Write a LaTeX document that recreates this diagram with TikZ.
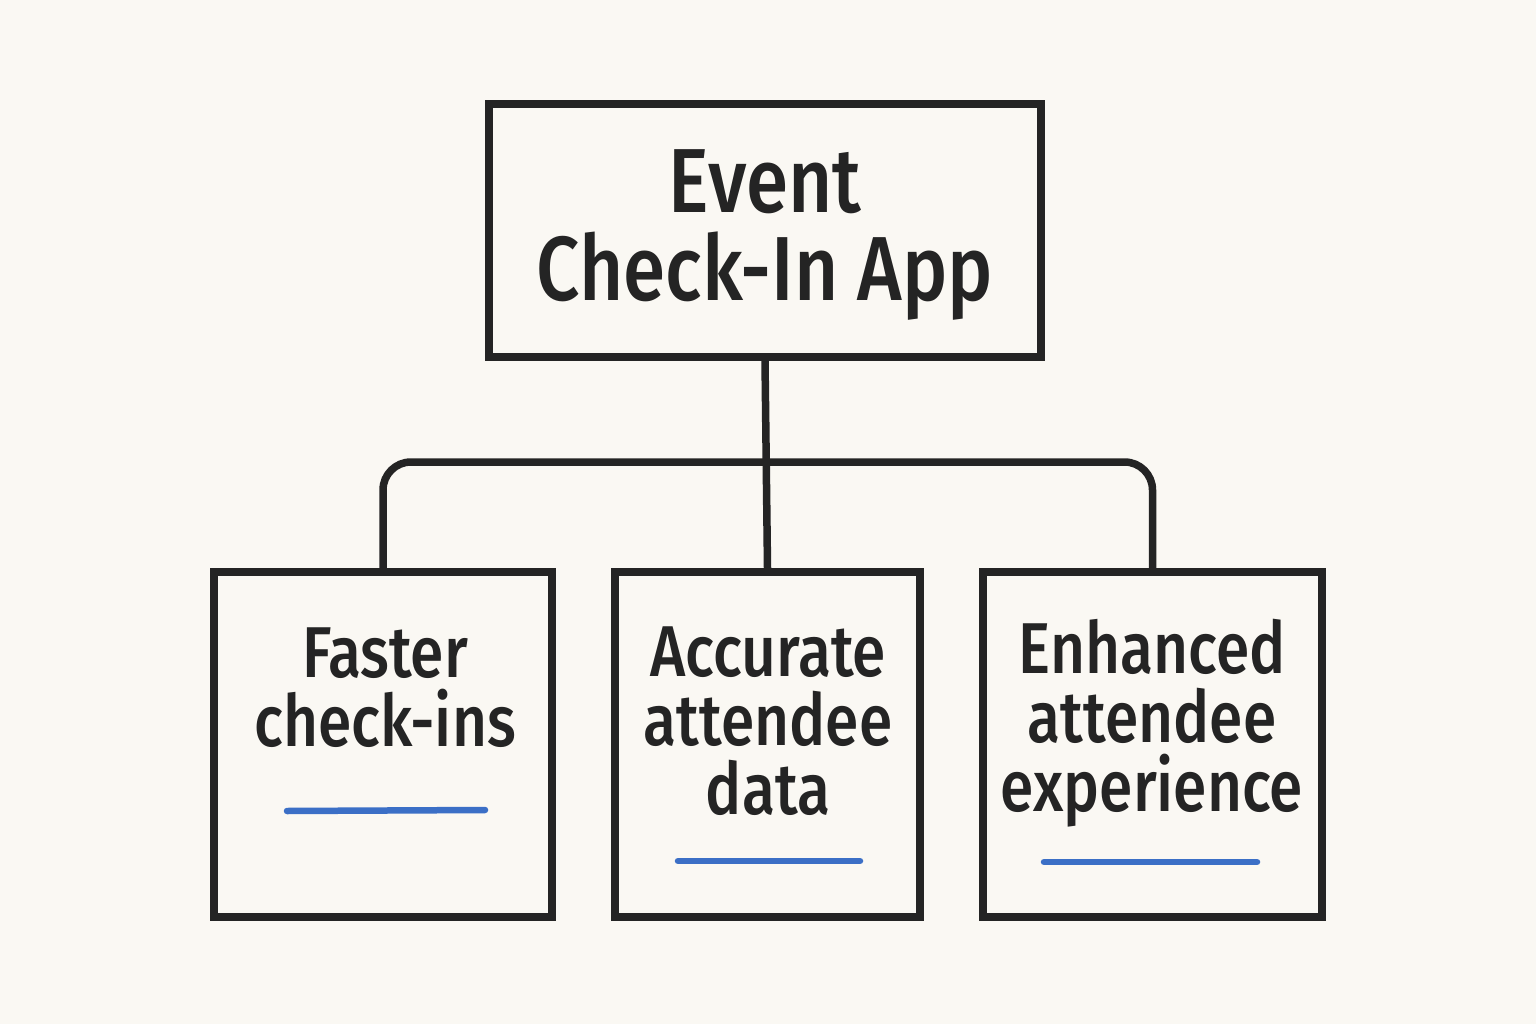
\documentclass[tikz,border=0pt]{standalone}
\usepackage{fontspec}
\setmainfont{Fira Sans Medium}[FakeStretch=0.84]
\definecolor{paper}{HTML}{FAF8F3}
\definecolor{ink}{HTML}{242424}
\definecolor{pen}{HTML}{3B6FC6}
\begin{document}
\begin{tikzpicture}[x=1pt,y=-1pt,
  box/.style={draw=ink, line width=7.5pt, fill=paper, inner sep=0pt},
  link/.style={draw=ink, line width=7.5pt},
  bigtxt/.style={text=ink, align=center, font=\fontsize{91}{88}\selectfont, inner sep=0pt},
  smalltxt/.style={text=ink, align=center, font=\fontsize{72}{69}\selectfont, inner sep=0pt},
  mark line/.style={draw=pen, line width=6.5pt, line cap=round}]
\fill[paper] (0,0) rectangle (1536,1024);
\useasboundingbox (0,0) rectangle (1536,1024);
% boxes
\node[box, minimum width=552pt, minimum height=253pt] (top) at (765,230.5) {};
\node[box, minimum width=338pt, minimum height=345pt] (b1) at (383,744.5) {};
\node[box, minimum width=305pt, minimum height=345pt] (b2) at (767.5,744.5) {};
\node[box, minimum width=339pt, minimum height=345pt] (b3) at (1152.5,744.5) {};
% connectors
\coordinate (bus) at (767,462);
\draw[link] (top.south) -- (b2.north);
\draw[link, rounded corners=28pt] (b1.north) |- (bus) -| (b3.north);
% texts
\node[bigtxt] (t0) at (765,235) {Event\\Check-In App};
\node[smalltxt] (t1) at (385,688) {Faster\\check-ins};
\node[smalltxt] (t2) at (768,721) {Accurate\\attendee\\data};
\node[smalltxt] (t3) at (1152,723) {Enhanced\\attendee\\experience};
% blue marks
\draw[mark line] (287,811) -- (485,810);
\draw[mark line] (678,861) -- (860,861);
\draw[mark line] (1044,862) -- (1257,862);
\end{tikzpicture}
\end{document}
